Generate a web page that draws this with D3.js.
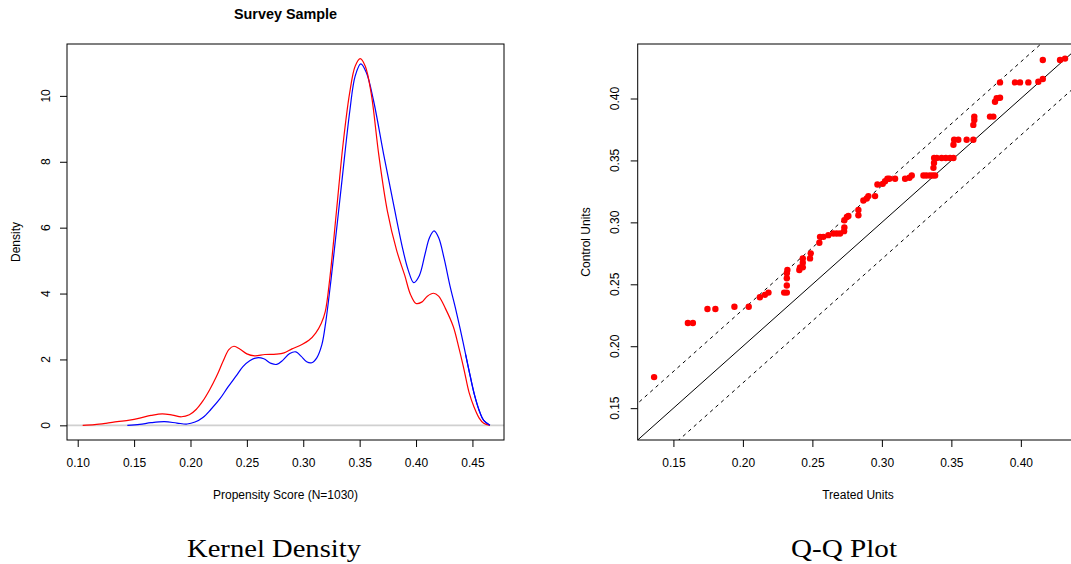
<!DOCTYPE html>
<html>
<head>
<meta charset="utf-8">
<script src="https://cdn.jsdelivr.net/npm/d3@7"></script>
<style>
  html, body { margin: 0; padding: 0; background: #fff; }
  svg text { font-family: "Liberation Sans", Arial, Helvetica, sans-serif; fill: #000; }
</style>
</head>
<body>
<svg id="chart" width="1071" height="564"></svg>
<script>
// Kernel density estimates of the propensity score, [score, density]
const redDensity = [
  [0.1044,0],[0.115,0.02],[0.125,0.06],[0.135,0.11],[0.146,0.16],[0.155,0.22],[0.165,0.30],
  [0.175,0.35],[0.184,0.31],[0.192,0.26],[0.199,0.32],[0.205,0.48],[0.211,0.74],[0.217,1.08],
  [0.223,1.48],[0.229,1.95],[0.234,2.30],[0.2385,2.40],[0.244,2.31],[0.250,2.17],[0.257,2.11],
  [0.266,2.15],[0.276,2.16],[0.283,2.20],[0.290,2.32],[0.298,2.44],[0.305,2.58],[0.311,2.80],
  [0.316,3.10],[0.3195,3.45],[0.3235,4.45],[0.3295,6.52],[0.3353,8.54],[0.341,10.06],[0.346,10.90],
  [0.3505,11.13],[0.355,10.90],[0.3603,10.06],[0.367,8.2],[0.3745,6.52],[0.3828,5.31],[0.390,4.55],
  [0.395,3.98],[0.400,3.70],[0.405,3.74],[0.410,3.92],[0.4155,4.01],[0.420,3.92],[0.426,3.55],
  [0.433,3.0],[0.438,2.35],[0.4425,1.7],[0.447,1.0],[0.4515,0.55],[0.456,0.22],[0.460,0.06],[0.4655,0]
];
const blueDensity = [
  [0.144,0],[0.155,0.03],[0.165,0.08],[0.177,0.11],[0.188,0.07],[0.197,0.04],[0.204,0.10],
  [0.211,0.24],[0.218,0.48],[0.226,0.80],[0.233,1.15],[0.2405,1.50],[0.2465,1.78],[0.2525,1.96],
  [0.259,2.05],[0.265,2.02],[0.2715,1.88],[0.2765,1.85],[0.282,1.98],[0.288,2.18],[0.2935,2.23],
  [0.298,2.10],[0.303,1.93],[0.3075,1.90],[0.312,2.05],[0.3165,2.45],[0.320,3.15],[0.3235,4.1],
  [0.3265,5.0],[0.334,7.33],[0.3413,9.55],[0.346,10.6],[0.351,10.97],[0.356,10.7],[0.3623,9.86],
  [0.3712,8.24],[0.380,6.72],[0.3885,5.31],[0.393,4.72],[0.398,4.33],[0.403,4.55],[0.408,5.2],
  [0.412,5.7],[0.416,5.9],[0.420,5.7],[0.425,5.05],[0.430,4.25],[0.435,3.55],[0.439,2.95],
  [0.444,2.15],[0.448,1.5],[0.452,0.9],[0.456,0.45],[0.460,0.15],[0.4655,0]
];

// Quantiles of treated vs control units
const treatedQ = [
  0.1361,0.1604,0.1640,0.1745,0.1802,0.1939,0.2042,0.2122,0.2158,0.2184,0.2297,0.2316,0.2316,0.2316,
  0.2316,0.2320,0.2406,0.2411,0.2431,0.2431,0.2431,0.2483,0.2488,0.2550,0.2555,0.2579,0.2615,0.2651,
  0.2675,0.2699,0.2728,0.2730,0.2730,0.2748,0.2759,0.2831,0.2831,0.2867,0.2891,0.2903,0.2951,0.2968,
  0.3006,0.3023,0.3040,0.3054,0.3095,0.3167,0.3198,0.3215,0.3299,0.3320,0.3345,0.3365,0.3383,0.3371,
  0.3375,0.3376,0.3395,0.3430,0.3460,0.3490,0.3515,0.3515,0.3520,0.3550,0.3610,0.3658,0.3658,0.3665,
  0.3665,0.3778,0.3802,0.3814,0.3826,0.3850,0.3850,0.3958,0.3994,0.4054,0.4126,0.4158,0.4158,0.4282,0.4318
];
const controlQ = [
  0.1751,0.2188,0.2188,0.2300,0.2300,0.2319,0.2319,0.2396,0.2415,0.2433,0.2433,0.2433,0.2490,0.2549,
  0.2589,0.2616,0.2616,0.2637,0.2637,0.2674,0.2709,0.2709,0.2750,0.2835,0.2883,0.2883,0.2897,0.2910,
  0.2910,0.2910,0.2929,0.2958,0.3017,0.3043,0.3051,0.3057,0.3100,0.3177,0.3193,0.3212,0.3212,0.3306,
  0.3311,0.3332,0.3352,0.3352,0.3352,0.3352,0.3360,0.3378,0.3378,0.3378,0.3378,0.3378,0.3378,0.3440,
  0.3480,0.3520,0.3520,0.3520,0.3520,0.3520,0.3520,0.3627,0.3667,0.3667,0.3667,0.3667,0.3787,0.3827,
  0.3854,0.3854,0.3854,0.3974,0.4002,0.4006,0.4130,0.4130,0.4130,0.4130,0.4135,0.4157,0.4311,0.4311,0.4322
];

const densityXTicks = [0.10, 0.15, 0.20, 0.25, 0.30, 0.35, 0.40, 0.45];
const densityYTicks = [0, 2, 4, 6, 8, 10];
const qqTicks = [0.15, 0.20, 0.25, 0.30, 0.35, 0.40];

const svg = d3.select("#chart");
const fmt2 = d3.format(".2f");

// ---------- Left panel: kernel density ----------
const L = { left: 67, right: 504, top: 44, bottom: 440 };
const xD = d3.scaleLinear().domain([0.0905, 0.478]).range([L.left, L.right]);
const yD = d3.scaleLinear().domain([-0.445, 11.575]).range([L.bottom, L.top]);

svg.append("defs").append("clipPath").attr("id", "clipL")
  .append("rect").attr("x", L.left).attr("y", L.top)
  .attr("width", L.right - L.left).attr("height", L.bottom - L.top);

const gL = svg.append("g");

// zero reference line
gL.append("line")
  .attr("x1", L.left).attr("x2", L.right)
  .attr("y1", yD(0)).attr("y2", yD(0))
  .attr("stroke", "#d0d0d0").attr("stroke-width", 1.6);

const line = d3.line().x(d => xD(d[0])).y(d => yD(Math.max(0, d[1])))
  .curve(d3.curveCatmullRom.alpha(0.5));

gL.append("path").datum(blueDensity).attr("d", line)
  .attr("fill", "none").attr("stroke", "#0000ff").attr("stroke-width", 1.2)
  .attr("clip-path", "url(#clipL)");
gL.append("path").datum(redDensity).attr("d", line)
  .attr("fill", "none").attr("stroke", "#ff0000").attr("stroke-width", 1.2)
  .attr("clip-path", "url(#clipL)");
// blue drawn on top where the curves overlap in the tail
gL.append("path").datum(blueDensity.filter(d => d[0] > 0.44)).attr("d", line)
  .attr("fill", "none").attr("stroke", "#0000ff").attr("stroke-width", 1.2)
  .attr("clip-path", "url(#clipL)");

// frame
gL.append("rect").attr("x", L.left).attr("y", L.top)
  .attr("width", L.right - L.left).attr("height", L.bottom - L.top)
  .attr("fill", "none").attr("stroke", "#000").attr("stroke-width", 1);

// x axis
const axL = gL.append("g").attr("transform", `translate(0,${L.bottom})`)
  .call(d3.axisBottom(xD).tickValues(densityXTicks).tickFormat(fmt2).tickSize(7));
axL.select(".domain").remove();
axL.selectAll("text").attr("font-size", 12).attr("font-family", "Liberation Sans, Arial, sans-serif").attr("dy", null)
  .attr("y", 27);
axL.selectAll("line").attr("stroke", "#000");

// y axis
const ayL = gL.append("g").attr("transform", `translate(${L.left},0)`)
  .call(d3.axisLeft(yD).tickValues(densityYTicks).tickFormat(d3.format("d")).tickSize(7));
ayL.select(".domain").remove();
ayL.selectAll("text").remove();
ayL.selectAll("line").attr("stroke", "#000");
gL.selectAll("text.ylab").data(densityYTicks).join("text")
  .attr("class", "ylab")
  .attr("transform", d => `translate(${L.left - 17.5},${yD(d)}) rotate(-90)`)
  .attr("text-anchor", "middle").attr("font-size", 12)
  .text(d => d);

gL.append("text").attr("x", (L.left + L.right) / 2).attr("y", 19)
  .attr("text-anchor", "middle").attr("font-size", 14.4).attr("font-weight", "bold")
  .text("Survey Sample");
gL.append("text").attr("x", (L.left + L.right) / 2).attr("y", 499)
  .attr("text-anchor", "middle").attr("font-size", 12)
  .text("Propensity Score (N=1030)");
gL.append("text").attr("transform", `translate(19.5,${(L.top + L.bottom) / 2}) rotate(-90)`)
  .attr("text-anchor", "middle").attr("font-size", 12)
  .text("Density");

// ---------- Right panel: Q-Q plot ----------
const R = { left: 637.7, right: 1082, top: 44, bottom: 440 };
const qLo = 0.1243, qHi = 0.444;
const xQ = d3.scaleLinear().domain([qLo, qHi]).range([R.left, R.right]);
const yQ = d3.scaleLinear().domain([qLo, qHi]).range([R.bottom, R.top]);
const band = 0.0296;

svg.select("defs").append("clipPath").attr("id", "clipR")
  .append("rect").attr("x", R.left).attr("y", R.top)
  .attr("width", R.right - R.left).attr("height", R.bottom - R.top);

const gR = svg.append("g");
const refLines = [
  { a: 0, dash: null },
  { a: band, dash: "3.5,3.8" },
  { a: -band, dash: "3.5,3.8" }
];
gR.selectAll("line.ref").data(refLines).join("line")
  .attr("class", "ref")
  .attr("x1", xQ(0.0)).attr("y1", d => yQ(0.0 + d.a))
  .attr("x2", xQ(0.6)).attr("y2", d => yQ(0.6 + d.a))
  .attr("stroke", "#000").attr("stroke-width", 1)
  .attr("stroke-dasharray", d => d.dash)
  .attr("clip-path", "url(#clipR)");

gR.selectAll("circle").data(treatedQ.map((t, i) => [t, controlQ[i]])).join("circle")
  .attr("cx", d => xQ(d[0])).attr("cy", d => yQ(d[1])).attr("r", 3.2)
  .attr("fill", "#ff0000").attr("clip-path", "url(#clipR)");

gR.append("rect").attr("x", R.left).attr("y", R.top)
  .attr("width", R.right - R.left).attr("height", R.bottom - R.top)
  .attr("fill", "none").attr("stroke", "#000").attr("stroke-width", 1);

const axR = gR.append("g").attr("transform", `translate(0,${R.bottom})`)
  .call(d3.axisBottom(xQ).tickValues(qqTicks).tickFormat(fmt2).tickSize(7));
axR.select(".domain").remove();
axR.selectAll("text").attr("font-size", 12).attr("font-family", "Liberation Sans, Arial, sans-serif").attr("dy", null)
  .attr("y", 27);
axR.selectAll("line").attr("stroke", "#000");

const ayR = gR.append("g").attr("transform", `translate(${R.left},0)`)
  .call(d3.axisLeft(yQ).tickValues(qqTicks).tickSize(7));
ayR.select(".domain").remove();
ayR.selectAll("text").remove();
ayR.selectAll("line").attr("stroke", "#000");
gR.selectAll("text.ylab").data(qqTicks).join("text")
  .attr("class", "ylab")
  .attr("transform", d => `translate(${R.left - 18.5},${yQ(d)}) rotate(-90)`)
  .attr("text-anchor", "middle").attr("font-size", 12)
  .text(d => fmt2(d));

gR.append("text").attr("x", 858).attr("y", 499)
  .attr("text-anchor", "middle").attr("font-size", 12)
  .text("Treated Units");
gR.append("text").attr("transform", `translate(589.5,${(R.top + R.bottom) / 2}) rotate(-90)`)
  .attr("text-anchor", "middle").attr("font-size", 12)
  .text("Control Units");

// ---------- Panel captions ----------
const captions = [
  { text: "Kernel Density", x: 274, w: 174 },
  { text: "Q-Q Plot", x: 844, w: 106 }
];
svg.selectAll("text.caption").data(captions).join("text")
  .attr("class", "caption")
  .attr("x", d => d.x).attr("y", 557)
  .attr("text-anchor", "middle")
  .attr("font-size", 25)
  .style("font-family", "'Liberation Serif', 'DejaVu Serif', serif")
  .attr("textLength", d => d.w).attr("lengthAdjust", "spacingAndGlyphs")
  .text(d => d.text);
</script>
</body>
</html>
